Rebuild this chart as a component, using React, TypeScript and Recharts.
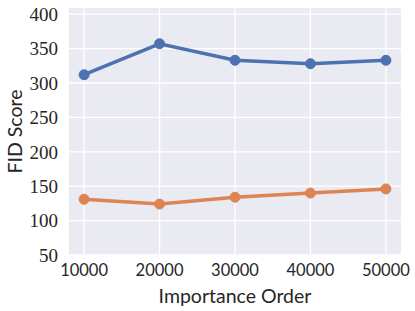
import React from "react";
import { LineChart, Line, XAxis, YAxis, CartesianGrid } from "recharts";

const orders = [10000, 20000, 30000, 40000, 50000];
const blueScores = [312, 357, 333, 328, 333];
const orangeScores = [131, 124, 134, 140, 146];
const yTicks = [50, 100, 150, 200, 250, 300, 350, 400];
const xTicks = [10000, 20000, 30000, 40000, 50000];

const data = orders.map((o, i) => ({ order: o, blue: blueScores[i], orange: orangeScores[i] }));

export default function App() {
  return (
    <div style={{ position: "absolute", left: 0, top: 0, width: 415, height: 311, background: "#fff" }}>
      <LineChart width={415} height={311} data={data} margin={{ top: 8, right: 14, left: 0, bottom: 0 }}>
        <CartesianGrid fill="#eaeaf2" stroke="#ffffff" strokeWidth={1.3} horizontalValues={yTicks} verticalValues={xTicks} />
        <XAxis
          dataKey="order"
          type="number"
          domain={[8000, 52000]}
          ticks={xTicks}
          axisLine={false}
          tickLine={false}
          tickSize={0}
          tickMargin={9}
          height={56}
          tick={{ fill: "#262626", fontSize: 16.5, fontFamily: "Lato, sans-serif" }}
          label={{ value: "Importance Order", position: "insideBottom", offset: 8, fill: "#262626", fontSize: 19.5, fontFamily: "Lato, sans-serif" }}
        />
        <YAxis
          type="number"
          domain={[50, 409]}
          allowDataOverflow
          ticks={yTicks}
          axisLine={false}
          tickLine={false}
          tickSize={0}
          tickMargin={11}
          width={69}
          tick={{ fill: "#262626", fontSize: 19, fontFamily: "'Liberation Serif', serif" }}
          label={{ value: "FID Score", angle: -90, position: "insideLeft", offset: 15, fill: "#262626", fontSize: 19.5, fontFamily: "Lato, sans-serif", style: { textAnchor: "middle" } }}
        />
        <Line dataKey="blue" stroke="#4c72b0" strokeWidth={3.5} dot={{ r: 5, fill: "#4c72b0", stroke: "#4c72b0", strokeWidth: 1 }} isAnimationActive={false} />
        <Line dataKey="orange" stroke="#dd8452" strokeWidth={3.5} dot={{ r: 5, fill: "#dd8452", stroke: "#dd8452", strokeWidth: 1 }} isAnimationActive={false} />
      </LineChart>
    </div>
  );
}
